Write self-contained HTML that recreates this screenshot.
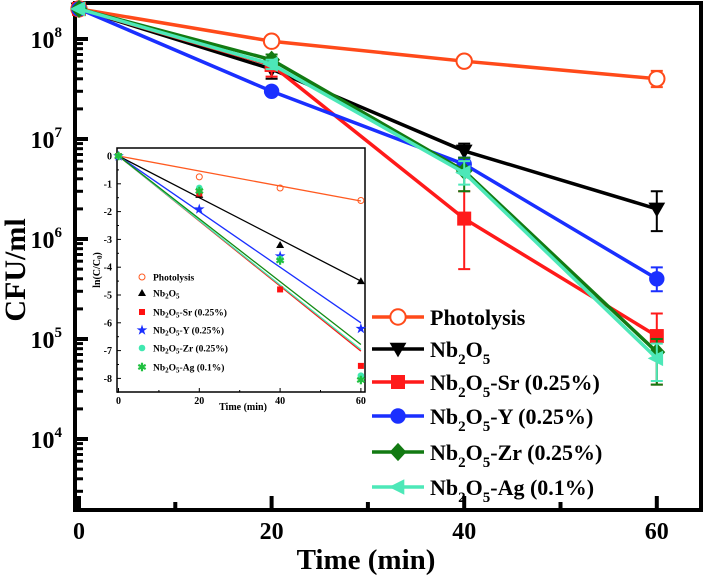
<!DOCTYPE html>
<html><head><meta charset="utf-8"><style>
body{margin:0;background:#fff}
svg{display:block;font-family:"Liberation Serif",serif;font-weight:bold}
</style></head><body>
<svg id="c" width="708" height="578" viewBox="0 0 708 578"></svg>
<script>
const times=[0,20,40,60];
const seriesNames=["Photolysis","Nb2O5","Nb2O5-Sr (0.25%)","Nb2O5-Y (0.25%)","Nb2O5-Zr (0.25%)","Nb2O5-Ag (0.1%)"];
const photolysis=[2e8,9.5e7,6e7,4e7];
const nb2o5=[2e8,5e7,7.6e6,2e6];
const nbSr=[2e8,5.5e7,1.6e6,1.07e5];
const nbY=[2e8,3e7,5.6e6,4e5];
const nbZr=[2e8,6.2e7,4.8e6,7.4e4];
const nbAg=[2e8,5.6e7,4.6e6,6.4e4];
const errLo=[[0,0,0,3.3e7],[0,4e7,6.5e6,1.2e6],[0,4.2e7,5e5,3.5e4],[0,0,5e6,3e5],[0,5.5e7,3e6,3.5e4],[0,5e7,3.5e6,3.8e4]];
const errHi=[[0,0,0,4.8e7],[0,5.8e7,9e6,3e6],[0,6.5e7,3e6,1.8e5],[0,0,6.5e6,5.2e5],[0,7e7,6.5e6,1e5],[0,6.2e7,6e6,9e4]];
const yTickExp=[4,5,6,7,8];
const xTicks=[0,20,40,60];
const insetPhot=[0,-0.75,-1.15,-1.6];
const insetNb=[0,-1.4,-3.2,-4.5];
const insetSr=[0,-1.35,-4.8,-7.55];
const insetY=[0,-1.9,-3.6,-6.2];
const insetZr=[0,-1.15,-3.7,-7.9];
const insetAg=[0,-1.25,-3.75,-8.05];
const fitSlopes=[-0.027,-0.075,-0.117,-0.1,-0.116,-0.113];
const insetYTicks=[0,-1,-2,-3,-4,-5,-6,-7,-8];

const colors=["#ff4a1a","#000000","#ff1a1a","#1a2fff","#127a12","#4de8b8"];
const insetColors=["#ff5a20","#000","#ff1010","#1a2fff","#40e8b0","#20c040"];
const svg=document.getElementById('c');
const NS="http://www.w3.org/2000/svg";
function mk(tag,attrs,parent){const e=document.createElementNS(NS,tag);for(const k in attrs)e.setAttribute(k,attrs[k]);(parent||svg).appendChild(e);return e;}
const X=t=>79+t*9.63;
const Y=v=>439-(Math.log10(v)-4)*100;
const frame=mk('rect',{x:75,y:3,width:626,height:507,fill:'none',stroke:'#000','stroke-width':4});

for(let e=3;e<=8;e++){for(let m=1;m<10;m++){const v=m*Math.pow(10,e);const y=Y(v);if(y<5||y>508)continue;
 const t=mk('line',{x1:75,x2:m==1?88:83,y1:y,y2:y,stroke:'#000','stroke-width':m==1?4:3});
 }}
yTickExp.forEach(e=>{const t=mk('text',{x:62,y:Y(Math.pow(10,e))+9,'text-anchor':'end','font-size':24});
 t.innerHTML='10<tspan dy="-11" font-size="15">'+e+'</tspan>';
 });
[0,10,20,30,40,50,60].forEach(t=>{const l=mk('line',{x1:X(t),x2:X(t),y1:510,y2:t%20==0?496:502,stroke:'#000','stroke-width':4});
 });
xTicks.forEach(t=>{const l=mk('text',{x:X(t),y:539,'text-anchor':'middle','font-size':24});l.textContent=t;
 });
let tl=mk('text',{x:366,y:569,'text-anchor':'middle','font-size':29});tl.textContent='Time (min)';

tl=mk('text',{x:0,y:0,'text-anchor':'middle','font-size':30,transform:'translate(25,270) rotate(-90)'});tl.textContent='CFU/ml';


function marker(i,x,y,s,g,col){
 let m;
 if(i==0)m=mk('circle',{cx:x,cy:y,r:s*0.55,fill:'#fff',stroke:col,'stroke-width':2},g);
 else if(i==1)m=mk('polygon',{points:`${x-s*0.6},${y-s*0.45} ${x+s*0.6},${y-s*0.45} ${x},${y+s*0.6}`,fill:col},g);
 else if(i==2)m=mk('rect',{x:x-s*0.5,y:y-s*0.5,width:s,height:s,fill:col},g);
 else if(i==3)m=mk('circle',{cx:x,cy:y,r:s*0.55,fill:col},g);
 else if(i==4)m=mk('polygon',{points:`${x},${y-s*0.65} ${x+s*0.6},${y} ${x},${y+s*0.65} ${x-s*0.6},${y}`,fill:col},g);
 else m=mk('polygon',{points:`${x-s*0.65},${y} ${x+s*0.45},${y-s*0.55} ${x+s*0.45},${y+s*0.55}`,fill:col},g);
 
}
const mainData=[photolysis,nb2o5,nbSr,nbY,nbZr,nbAg];
[0,1,2,3,4,5].forEach(i=>{const g=mk('g',{});
 const d=mainData[i];const col=colors[i];
 for(let k=0;k<times.length;k++){if(errHi[i][k]>0){const x=X(times[k]);
  const e=mk('path',{d:`M${x},${Y(errLo[i][k])}V${Y(errHi[i][k])}M${x-6},${Y(errLo[i][k])}h12M${x-6},${Y(errHi[i][k])}h12`,stroke:col,'stroke-width':2,fill:'none'},g);
  }}
 const p=mk('polyline',{points:times.map((t,k)=>X(t)+','+Y(d[k])).join(' '),fill:'none',stroke:col,'stroke-width':3.5},g);
 
 times.forEach((t,k)=>marker(i,X(t),Y(d[k]),14,g,col));
});
const legY=[317,349,382,416,452,487];
const sub=(s)=>'<tspan dy="7" font-size="15">'+s+'</tspan>';
const legLabels=['Photolysis','Nb'+sub(2)+'<tspan dy="-7">O</tspan>'+sub(5),
 'Nb'+sub(2)+'<tspan dy="-7">O</tspan>'+sub(5)+'<tspan dy="-7">-Sr (0.25%)</tspan>',
 'Nb'+sub(2)+'<tspan dy="-7">O</tspan>'+sub(5)+'<tspan dy="-7">-Y (0.25%)</tspan>',
 'Nb'+sub(2)+'<tspan dy="-7">O</tspan>'+sub(5)+'<tspan dy="-7">-Zr (0.25%)</tspan>',
 'Nb'+sub(2)+'<tspan dy="-7">O</tspan>'+sub(5)+'<tspan dy="-7">-Ag (0.1%)</tspan>'];
seriesNames.forEach((n,i)=>{const g=mk('g',{});
 mk('line',{x1:372,x2:424,y1:legY[i],y2:legY[i],stroke:colors[i],'stroke-width':3.5},g);
 marker(i,398,legY[i],14,g,colors[i]);
 const t=mk('text',{x:430,y:legY[i]+8,'font-size':22},g);t.innerHTML=legLabels[i];
});
const IX=t=>118.5+t*4.04;
const IY=v=>156-v*27.8;
const ig=mk('g',{});
mk('rect',{x:117,y:148,width:248,height:244,fill:'#fff',stroke:'#000','stroke-width':1.5},ig);
for(let v=0;v>=-8.5;v-=0.5){const l=mk('line',{x1:117,x2:v%1==0?121:119,y1:IY(v),y2:IY(v),stroke:'#000','stroke-width':1},ig);
 }
for(let t=0;t<=60;t+=10){const l=mk('line',{x1:IX(t),x2:IX(t),y1:392,y2:t%20==0?388:390,stroke:'#000','stroke-width':1},ig);
 }
insetYTicks.forEach(v=>{const t=mk('text',{x:112,y:IY(v)+3.5,'text-anchor':'end','font-size':10},ig);t.textContent=v;
 });
xTicks.forEach(v=>{const t=mk('text',{x:IX(v),y:404,'text-anchor':'middle','font-size':10},ig);t.textContent=v;
 });
let it=mk('text',{x:243,y:410,'text-anchor':'middle','font-size':10},ig);it.textContent='Time (min)';

it=mk('text',{x:0,y:0,'text-anchor':'middle','font-size':10,transform:'translate(100,270) rotate(-90)'},ig);
it.innerHTML='ln(C/C<tspan dy="2" font-size="7">0</tspan><tspan dy="-2">)</tspan>';

const insetData=[insetPhot,insetNb,insetSr,insetY,insetZr,insetAg];
const fitColors=["#ff5a20","#000","#ff1010","#1a2fff","#40e8b0","#138a13"];
[0,1,3,2,4,5].forEach(i=>{const l=mk('line',{x1:IX(0),y1:IY(0),x2:IX(60),y2:IY(fitSlopes[i]*60),stroke:fitColors[i],'stroke-width':1.3},ig);
 });
function imarker(i,x,y,g){let m;const c=insetColors[i];
 if(i==0)m=mk('circle',{cx:x,cy:y,r:3,fill:'none',stroke:c,'stroke-width':1},g);
 else if(i==1)m=mk('polygon',{points:`${x-4},${y+3} ${x+4},${y+3} ${x},${y-4}`,fill:c},g);
 else if(i==2)m=mk('rect',{x:x-3,y:y-3,width:6,height:6,fill:c},g);
 else if(i==3){m=mk('text',{x:x,y:y+4,'text-anchor':'middle','font-size':12,fill:c},g);m.textContent='★';}
 else if(i==4)m=mk('circle',{cx:x,cy:y,r:3.3,fill:c},g);
 else {m=mk('text',{x:x,y:y+4,'text-anchor':'middle','font-size':11,fill:c},g);m.textContent='✱';}
 }
insetData.forEach((d,i)=>times.forEach((t,k)=>imarker(i,IX(t),IY(d[k]),ig)));
const ilY=[277,293,312,330,348,367];
const isub=(s)=>'<tspan dy="2" font-size="7">'+s+'</tspan>';
const ilLabels=['Photolysis','Nb'+isub(2)+'<tspan dy="-2">O</tspan>'+isub(5),
 'Nb'+isub(2)+'<tspan dy="-2">O</tspan>'+isub(5)+'<tspan dy="-2">-Sr (0.25%)</tspan>',
 'Nb'+isub(2)+'<tspan dy="-2">O</tspan>'+isub(5)+'<tspan dy="-2">-Y (0.25%)</tspan>',
 'Nb'+isub(2)+'<tspan dy="-2">O</tspan>'+isub(5)+'<tspan dy="-2">-Zr (0.25%)</tspan>',
 'Nb'+isub(2)+'<tspan dy="-2">O</tspan>'+isub(5)+'<tspan dy="-2">-Ag (0.1%)</tspan>'];
ilLabels.forEach((lab,i)=>{const g=mk('g',{},ig);
 imarker(i,142,ilY[i],g);const t=mk('text',{x:153,y:ilY[i]+3.5,'font-size':9.5},g);t.innerHTML=lab;});
</script>
</body></html>
